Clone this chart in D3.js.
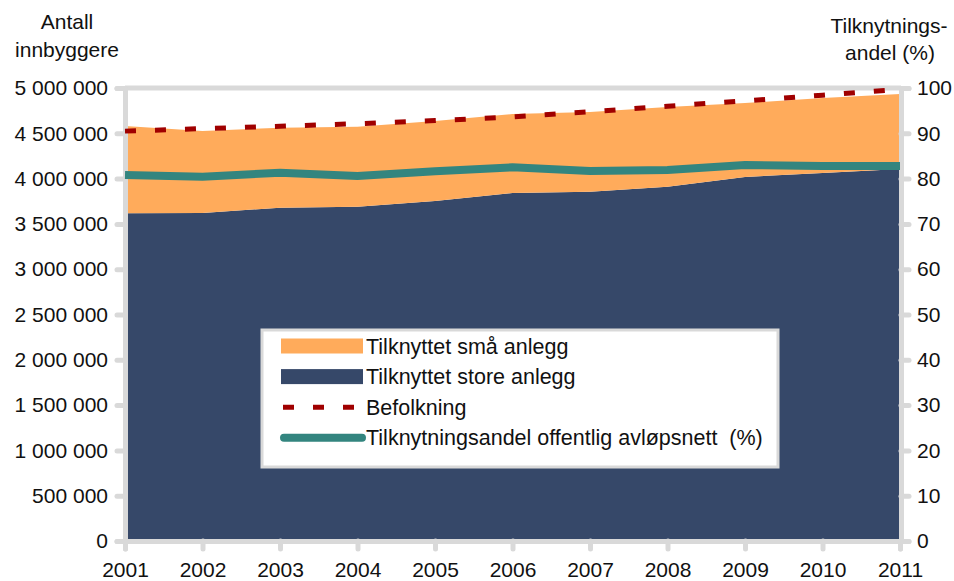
<!DOCTYPE html>
<html>
<head>
<meta charset="utf-8">
<script src="https://cdn.jsdelivr.net/npm/d3@7"></script>
<style>
  body { margin: 0; background: #fff; }
  svg text { font-family: "Liberation Sans", Arial, sans-serif; fill: #111; white-space: pre; }
  .axis path, .axis line { stroke: #d9d9d9; stroke-width: 5; stroke-linecap: round; }
  .axis text { font-size: 21px; }
</style>
</head>
<body>
<div id="chart"></div>
<script>
const width = 954;
const height = 581;

// data (inhabitants / percent)
const years = [2001, 2002, 2003, 2004, 2005, 2006, 2007, 2008, 2009, 2010, 2011];
const storeAnlegg = [3617000, 3620000, 3679000, 3690000, 3753000, 3841000, 3855000, 3911000, 4018000, 4062000, 4106000];
const smaAnlegg = [964000, 905000, 883000, 883000, 883000, 872000, 880000, 879000, 816000, 828000, 828000];
const befolkning = [4524000, 4552000, 4577000, 4606000, 4640000, 4681000, 4737000, 4799000, 4858000, 4920000, 4986000];
const andelPct = [80.8, 80.4, 81.3, 80.6, 81.6, 82.5, 81.7, 81.9, 83.0, 82.8, 82.8];

const leftTicks = [0, 500000, 1000000, 1500000, 2000000, 2500000, 3000000, 3500000, 4000000, 4500000, 5000000];
const rightTicks = [0, 10, 20, 30, 40, 50, 60, 70, 80, 90, 100];

const legendLabels = ["Tilknyttet små anlegg", "Tilknyttet store anlegg", "Befolkning", "Tilknytningsandel offentlig avløpsnett  (%)"];

const colSma = "#ffab5b";
const colStore = "#364869";
const colBef = "#a00000";
const colAndel = "#33857f";

const plot = {left: 125, right: 901, top: 88, bottom: 541};

const x = d3.scaleLinear().domain([2001, 2011]).range([plot.left, 900]);
const y = d3.scaleLinear().domain([0, 5000000]).range([plot.bottom, plot.top]);
const y2 = d3.scaleLinear().domain([0, 100]).range([plot.bottom, plot.top]);

const nbLocale = d3.formatLocale({decimal: ",", thousands: "\u00a0", grouping: [3], currency: ["", " kr"]});
const fmt = nbLocale.format(",d");

const svg = d3.select("#chart").append("svg")
    .attr("width", width)
    .attr("height", height);

const rows = years.map((yr, i) => ({year: yr, store: storeAnlegg[i], sma: smaAnlegg[i]}));
const stack = d3.stack().keys(["store", "sma"]);
const layers = stack(rows);

const area = d3.area()
    .x(d => x(d.data.year))
    .y0(d => y(d[0]))
    .y1(d => y(d[1]));

svg.selectAll(".layer")
    .data(layers)
    .enter()
    .append("path")
    .attr("class", "layer")
    .attr("d", area)
    .attr("fill", (d, i) => i == 0 ? colStore : colSma);

// frame: top line
svg.append("line")
    .attr("x1", plot.left).attr("x2", plot.right)
    .attr("y1", plot.top).attr("y2", plot.top)
    .attr("stroke", "#d9d9d9").attr("stroke-width", 5);

let yAxis = d3.axisLeft(y).tickValues(leftTicks).tickFormat(fmt).tickSize(8).tickPadding(9);
svg.append("g")
    .attr("class", "axis")
    .attr("transform", "translate(" + plot.left + ",0)")
    .call(yAxis);

let yAxis2 = d3.axisRight(y2).tickValues(rightTicks).tickSize(8).tickPadding(8);
svg.append("g")
    .attr("class", "axis")
    .attr("transform", "translate(" + plot.right + ",0)")
    .call(yAxis2);

let xAxis = d3.axisBottom(x).tickValues(years).tickFormat(d3.format("d")).tickSize(8).tickPadding(13);
svg.append("g")
    .attr("class", "axis")
    .attr("transform", "translate(0," + plot.bottom + ")")
    .call(xAxis);

svg.selectAll(".axis .domain").attr("stroke-linecap", "butt");

// lines
const befLine = d3.line().x((d, i) => x(years[i])).y(d => y(d));
svg.append("path")
    .attr("d", befLine(befolkning))
    .attr("fill", "none")
    .attr("stroke", colBef)
    .attr("stroke-width", 5)
    .attr("stroke-dasharray", "11,19");

const andelLine = d3.line().x((d, i) => x(years[i])).y(d => y2(d));
svg.append("path")
    .attr("d", andelLine(andelPct))
    .attr("fill", "none")
    .attr("stroke", colAndel)
    .attr("stroke-width", 8);

// axis titles
svg.append("text").attr("x", 67).attr("y", 29).attr("text-anchor", "middle").style("font-size", "21px").text("Antall");
svg.append("text").attr("x", 67).attr("y", 57).attr("text-anchor", "middle").style("font-size", "21px").text("innbyggere");
svg.append("text").attr("x", 889).attr("y", 33).attr("text-anchor", "middle").style("font-size", "21px").text("Tilknytnings-");
svg.append("text").attr("x", 890).attr("y", 60).attr("text-anchor", "middle").style("font-size", "21px").text("andel (%)");

// legend
const legend = svg.append("g").attr("transform", "translate(262,330)");
legend.append("rect")
    .attr("width", 516).attr("height", 137)
    .attr("fill", "#fff").attr("stroke", "#d9d9d9").attr("stroke-width", 3);

const items = legend.selectAll(".item")
    .data(legendLabels)
    .enter()
    .append("g")
    .attr("class", "item")
    .attr("transform", (d, i) => "translate(0," + (16 + i * 30.6) + ")");

items.each(function(d, i) {
    const g = d3.select(this);
    if (i < 2) {
        g.append("rect").attr("x", 19).attr("y", -7.5).attr("width", 82).attr("height", 15)
            .attr("fill", i == 0 ? colSma : colStore);
    } else if (i == 2) {
        g.append("line").attr("x1", 21).attr("x2", 101).attr("y1", 0).attr("y2", 0)
            .attr("stroke", colBef).attr("stroke-width", 5).attr("stroke-dasharray", "11,19");
    } else {
        g.append("line").attr("x1", 22).attr("x2", 100).attr("y1", 0).attr("y2", 0)
            .attr("stroke", colAndel).attr("stroke-width", 8).attr("stroke-linecap", "round");
    }
    g.append("text").attr("x", 104).attr("y", 0).attr("dy", "0.35em")
        .style("font-size", "21.5px").text(d);
});
</script>
</body>
</html>
